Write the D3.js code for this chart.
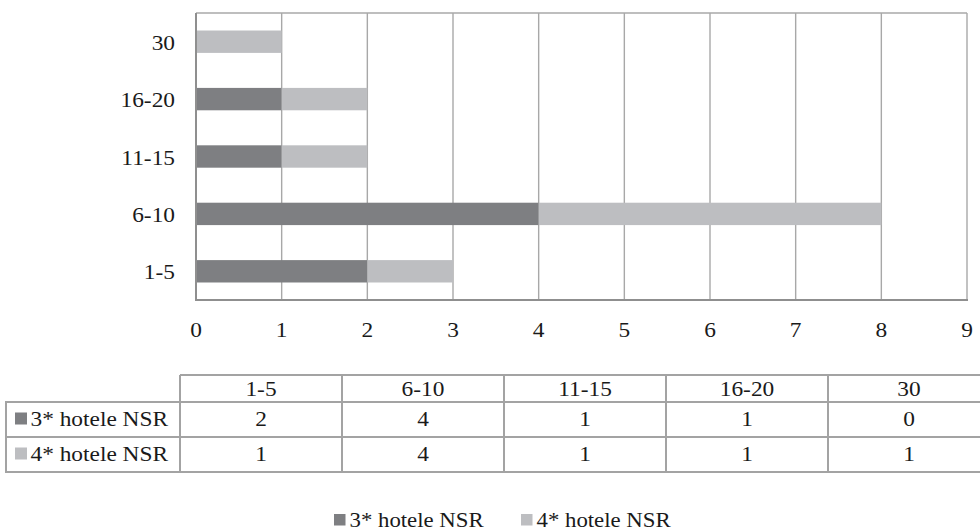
<!DOCTYPE html>
<html><head><meta charset="utf-8">
<script src="https://cdn.jsdelivr.net/npm/d3@7"></script>
<style>
body{margin:0;background:#fff;}
svg text{font-family:'Liberation Serif','Times New Roman','DejaVu Serif',serif;fill:#1a1a1a;}
</style></head>
<body><svg id="c" width="980" height="532"></svg>
<script>
const categories = ["1-5","6-10","11-15","16-20","30"];
const series = ["3* hotele NSR","4* hotele NSR"];
const values3 = [2,4,1,1,0];
const values4 = [1,4,1,1,1];
const xTicks = [0,1,2,3,4,5,6,7,8,9];
const colors = ["#7e7f82","#bdbec1"];

const FONT = "'Liberation Serif','Times New Roman','DejaVu Serif',serif";
const SX = 1.14;
const svg = d3.select("#c").attr("font-family", FONT);
const plot = {l:196, r:967, t:13, b:300};
const x = d3.scaleLinear().domain([0,9]).range([plot.l, plot.r]);
const y = d3.scaleBand().domain(categories.slice().reverse()).range([plot.t, plot.b]).paddingInner(0.61).paddingOuter(0.305);

function T(sel, fx, fy, size){
  return sel.attr("font-family",FONT).attr("font-size",size)
    .attr("transform",(d,i)=>`translate(${typeof fx==="function"?fx(d,i):fx},${typeof fy==="function"?fy(d,i):fy}) scale(${SX},1)`);
}

// grid
svg.append("g").selectAll("line").data(xTicks.filter(d=>d>0)).join("line")
  .attr("x1",d=>x(d)).attr("x2",d=>x(d)).attr("y1",plot.t).attr("y2",plot.b)
  .attr("stroke","#a8a8a8").attr("stroke-width",1.4);
svg.append("line").attr("x1",plot.l).attr("x2",plot.r).attr("y1",plot.t).attr("y2",plot.t)
  .attr("stroke","#a8a8a8").attr("stroke-width",1.4);

// bars
const stacked = categories.map((c,i)=>({c, v:[values3[i], values4[i]]}));
const bars = svg.append("g");
stacked.forEach(d=>{
  let x0 = 0;
  d.v.forEach((v,k)=>{
    if(v>0){
      bars.append("rect").attr("x",x(x0)).attr("width",x(x0+v)-x(x0))
        .attr("y",y(d.c)).attr("height",y.bandwidth()).attr("fill",colors[k]);
    }
    x0 += v;
  });
});

// axes lines
svg.append("line").attr("x1",plot.l).attr("x2",plot.l).attr("y1",plot.t).attr("y2",plot.b+1)
  .attr("stroke","#8f8f8f").attr("stroke-width",2);
svg.append("line").attr("x1",plot.l-1).attr("x2",plot.r+1).attr("y1",plot.b).attr("y2",plot.b)
  .attr("stroke","#8f8f8f").attr("stroke-width",2);

// x tick labels
T(svg.append("g").selectAll("text").data(xTicks).join("text"), d=>x(d), 336.5, 20.5)
  .attr("text-anchor","middle").text(d=>d);
// y labels
T(svg.append("g").selectAll("text").data(categories).join("text"), 175, d=>y(d)+y.bandwidth()/2+8, 20.5)
  .attr("text-anchor","end").text(d=>d);

// data table
const tc = d3.scaleBand().domain(categories).range([180, 990]);
const rows = [375, 402, 437, 472];
const tg = svg.append("g");
const lc = "#a3a3a3";
tg.append("line").attr("x1",180).attr("x2",980).attr("y1",rows[0]).attr("y2",rows[0]).attr("stroke",lc).attr("stroke-width",2);
[1,2,3].forEach(i=>tg.append("line").attr("x1",5).attr("x2",980).attr("y1",rows[i]).attr("y2",rows[i]).attr("stroke",lc).attr("stroke-width",2));
tg.append("line").attr("x1",6).attr("x2",6).attr("y1",rows[1]).attr("y2",rows[3]).attr("stroke",lc).attr("stroke-width",2);
categories.forEach(c=>tg.append("line").attr("x1",tc(c)).attr("x2",tc(c)).attr("y1",rows[0]).attr("y2",rows[3]).attr("stroke",lc).attr("stroke-width",2));
T(tg.selectAll("text.h").data(categories).join("text").attr("class","h"), d=>tc(d)+tc.bandwidth()/2, 396, 20.5)
  .attr("text-anchor","middle").text(d=>d);
[values3, values4].forEach((vals,k)=>{
  const yy = [426, 461][k];
  tg.append("rect").attr("x",15).attr("y",yy-13.5).attr("width",12).attr("height",12).attr("fill",colors[k]);
  T(tg.append("text"), 30.5, yy, 20.5).text(series[k]);
  T(tg.selectAll("text.v"+k).data(vals).join("text").attr("class","v"+k), (d,i)=>tc(categories[i])+tc.bandwidth()/2, yy, 20.5)
    .attr("text-anchor","middle").text(d=>d);
});

// legend
const lg = svg.append("g");
const lx = [334, 521];
series.forEach((s,k)=>{
  lg.append("rect").attr("x",lx[k]).attr("y",514).attr("width",11.5).attr("height",11.5).attr("fill",colors[k]);
  T(lg.append("text"), lx[k]+15.5, 527, 20).text(s);
});
</script></body></html>
